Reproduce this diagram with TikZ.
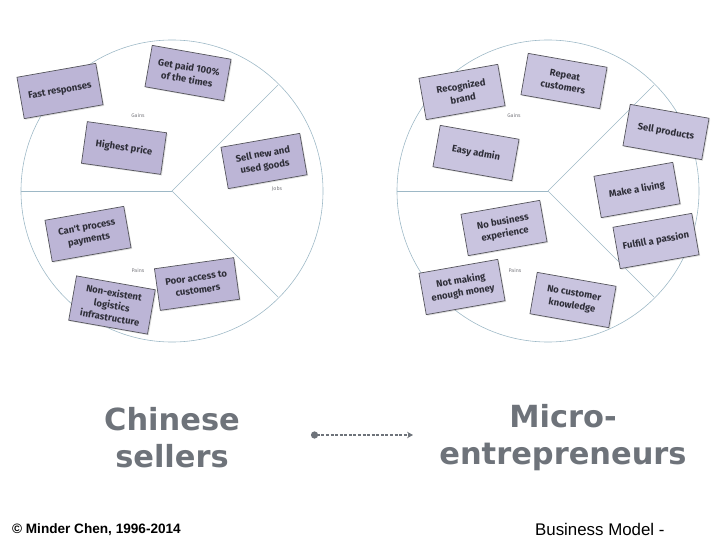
\documentclass[tikz,border=0pt]{standalone}
\usepackage{fontspec}
\setmainfont{Liberation Sans}
\newfontfamily\firafont{Fira Sans}
\newfontfamily\titlefont{DejaVu Sans}
\usetikzlibrary{arrows.meta,positioning,shadows}
\definecolor{ring}{HTML}{9DB8C6}
\definecolor{ink}{HTML}{2E2E38}
\definecolor{edge}{HTML}{55555C}
\definecolor{lilacA}{HTML}{BCB5D6}
\definecolor{lilacB}{HTML}{C9C4DF}
\definecolor{titlegray}{HTML}{6E737A}
\definecolor{lblgray}{HTML}{7A7A80}

\begin{document}
\begin{tikzpicture}[x=0.03cm,y=-0.03cm,>=Stealth]
 \tikzstyle{seg}=[draw=ring,line width=0.5pt]
 \tikzstyle{note}=[rectangle,draw=edge,line width=0.6pt,fill=lilacA,minimum width=2.4cm,minimum height=1.26cm,align=center,inner sep=2pt,font=\firafont\bfseries\fontsize{8.1}{10.6}\selectfont,text=ink,drop shadow={opacity=0.25,shadow xshift=1pt,shadow yshift=-1pt}]
 \tikzstyle{noteB}=[note,fill=lilacB]
 \tikzstyle{area}=[font=\firafont\fontsize{4.5}{5}\selectfont,text=lblgray]
 \tikzstyle{title}=[font=\titlefont\bfseries\fontsize{26}{31.5}\selectfont,text=titlegray,align=center]
 \useasboundingbox (0,0) rectangle (720,540);
 % left profile
 \coordinate (lc) at (172,191);
 \draw[seg] (lc) circle (4.53cm);
 \draw[seg] (lc) -- ++(-151,0);
 \draw[seg] (lc) -- ++(106,-106);
 \draw[seg] (lc) -- ++(106,106);
 \node[area] (lgains) at (138,115) {Gains};
 \node[area] (ljobs) at (277,189) {Jobs};
 \node[area] (lpains) at (138,270) {Pains};
 \node[note,rotate=10] (fast) at (60,91) {Fast responses};
 \node[note,rotate=-10] (paid) at (188,73) {Get paid 100\%\\of the times};
 \node[note,rotate=-8] (price) at (124,148) {Highest price};
 \node[note,rotate=10] (goods) at (264,161) {Sell new and\\used goods};
 \node[note,rotate=10] (process) at (88,234) {Can't process\\payments};
 \node[note,rotate=8] (access) at (197,284) {Poor access to\\customers};
 \node[note,rotate=-10,minimum height=1.35cm] (logis) at (112,305) {Non-existent\\logistics\\infrastructure};
 % right profile
 \coordinate (rc) at (548,191);
 \draw[seg] (rc) circle (4.53cm);
 \draw[seg] (rc) -- ++(-151,0);
 \draw[seg] (rc) -- ++(106,-106);
 \draw[seg] (rc) -- ++(106,106);
 \node[area] (rgains) at (514,115) {Gains};
 \node[area] (rpains) at (515,270) {Pains};
 \node[noteB,rotate=10] (brand) at (462,92) {Recognized\\brand};
 \node[noteB,rotate=-10] (repeat) at (564,81) {Repeat\\customers};
 \node[noteB,rotate=-10] (products) at (666,132) {Sell products};
 \node[noteB,rotate=-10] (admin) at (476,153) {Easy admin};
 \node[noteB,rotate=10] (living) at (637,190) {Make a living};
 \node[noteB,rotate=10] (passion) at (656,241) {Fulfill a passion};
 \node[noteB,rotate=10] (experience) at (504,228) {No business\\experience};
 \node[noteB,rotate=10] (money) at (462,287) {Not making\\enough money};
 \node[noteB,rotate=-10] (knowledge) at (573,300) {No customer\\knowledge};
 % segments
 \node[title] (chinese) at (172,438) {Chinese\\sellers};
 \node[title] (micro) at (563,438) {Micro-\\entrepreneurs};
 \coordinate (from) at (311,435);
 \coordinate (to) at (413,435);
 \draw[titlegray,line width=2pt,dash pattern=on 2.6pt off 1.3pt,{Circle[length=6pt]}-{Stealth[length=5pt,width=5.5pt]}] (from) -- (to);
 % footer
 \node[font=\bfseries\fontsize{11.6}{13}\selectfont,anchor=west] (copy) at (8,530) {\textcopyright\ Minder Chen, 1996-2014};
 \node[font=\fontsize{14.4}{16}\selectfont,anchor=west] (model) at (531,529) {Business Model -};
\end{tikzpicture}
\end{document}
